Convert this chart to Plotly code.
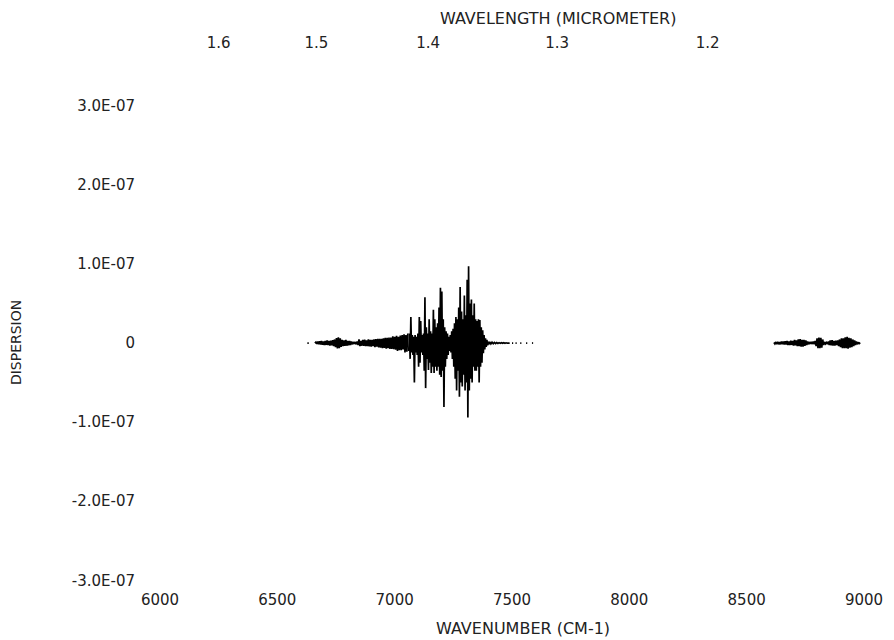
import plotly.graph_objects as go

# ---------------- data (dispersion in units of 1E-07) ----------------
# Each segment: wavenumber start (cm-1), sampling step (cm-1), dispersion values
SEG0_START, SEG0_STEP = 6628, 6
SEG0_VALS = [0.0, 0.0]

SEG1_START, SEG1_STEP = 6660, 4
SEG1_VALS = [
    0.0, 0.012, -0.012, 0.018, -0.015, 0.022, -0.02, 0.025, -0.022, 0.02,
    -0.025, 0.028, -0.024, 0.032, -0.026, 0.026, -0.032, 0.03, -0.028, 0.036,
    -0.04, 0.045, -0.052, 0.062, -0.068, 0.072, -0.064, 0.058, -0.05, 0.04,
    -0.04, 0.034, -0.036, 0.04, -0.034, 0.028, -0.03, 0.026, -0.024, 0.02,
    -0.016, 0.013, -0.01, 0.013, -0.016, 0.02, -0.026, 0.045, -0.04, 0.028,
    -0.034, 0.04, -0.036, 0.042, -0.04, 0.034, -0.04, 0.045, -0.042, 0.04,
    -0.046, 0.04, -0.04, 0.046, -0.052, 0.05, -0.046, 0.052, -0.055, 0.052,
    -0.058, 0.052, -0.065, 0.058, -0.062, 0.065, -0.07, 0.065, -0.065, 0.07,
    -0.076, 0.07, -0.076, 0.085, -0.078, 0.078, -0.085, 0.09, -0.1, 0.078,
    -0.09, 0.095, -0.09, 0.1, -0.08, 0.11, -0.12, 0.1, -0.11, 0.12,
]

SEG2_START, SEG2_STEP = 7060, 3
SEG2_VALS = [
    -0.1, 0.12, -0.2, 0.33, -0.12, 0.1, -0.15, 0.08, -0.5, 0.1,
    -0.12, 0.08, -0.15, 0.12, -0.3, 0.33, -0.25, 0.28, -0.12, 0.1,
    -0.15, 0.12, -0.35, 0.58, -0.57, 0.2, -0.2, 0.12, -0.34, 0.3,
    -0.25, 0.15, -0.38, 0.12, -0.3, 0.42, -0.38, 0.3, -0.3, 0.2,
    -0.35, 0.25, -0.3, 0.45, -0.4, 0.7, -0.43, 0.65, -0.35, 0.3,
    -0.81, 0.2, -0.3, 0.15, -0.2, 0.12, -0.15, 0.08, -0.1, 0.1,
    -0.12, 0.15, -0.2, 0.18, -0.3, 0.25, -0.45, 0.33, -0.6, 0.3,
    -0.35, 0.45, -0.68, 0.71, -0.5, 0.4, -0.55, 0.3, -0.4, 0.6,
    -0.6, 0.35, -0.5, 0.8, -0.94, 0.97, -0.6, 0.5, -0.45, 0.55,
    -0.5, 0.35, -0.3, 0.5, -0.35, 0.3, -0.35, 0.28, -0.3, 0.3,
    -0.5, 0.29, -0.3, 0.2, -0.25, 0.16, -0.13, 0.1, -0.08, 0.06,
    -0.05, 0.04, -0.03, 0.02,
]

SEG3_START, SEG3_STEP = 7400, 5
SEG3_VALS = [
    -0.02, 0.015, -0.012, 0.01, -0.008, 0.008, -0.006, 0.006, -0.005, 0.005,
    -0.004, 0.004, -0.004, 0.003, -0.003, 0.003, -0.002, 0.002, 0.0, None,
    0.0, 0.0, None, 0.0, 0.0, None, None, 0.0, 0.0, None,
    None, None, 0.0, 0.0, None, None, None, 0.0, 0.0,
]

SEG4_START, SEG4_STEP = 8616, 4
SEG4_VALS = [
    0.006, -0.01, 0.013, -0.013, 0.016, -0.016, 0.013, -0.016, 0.02, -0.016,
    0.02, -0.02, 0.024, -0.02, 0.026, -0.024, 0.02, -0.026, 0.03, -0.024,
    0.026, -0.032, 0.04, -0.03, 0.034, -0.04, 0.045, -0.04, 0.05, -0.045,
    0.04, -0.045, 0.04, -0.036, 0.032, -0.026, 0.02, -0.016, 0.013, -0.01,
    0.016, -0.013, 0.02, -0.016, 0.026, -0.04, 0.058, -0.065, 0.07, -0.065,
    0.065, -0.058, 0.045, -0.026, 0.013, -0.01, 0.007, -0.013, 0.02, -0.026,
    0.032, -0.03, 0.036, -0.032, 0.026, -0.032, 0.03, -0.026, 0.032, -0.04,
    0.045, -0.052, 0.058, -0.065, 0.058, -0.065, 0.072, -0.065, 0.078, -0.072,
    0.065, -0.058, 0.058, -0.052, 0.045, -0.04, 0.032, -0.026, 0.02, -0.016,
    0.01, -0.007, 0.004,
]

Y_TICK_VALUES = [3, 2, 1, 0, -1, -2, -3]
Y_TICK_LABELS = ["3.0E-07", "2.0E-07", "1.0E-07", "0", "-1.0E-07", "-2.0E-07", "-3.0E-07"]
X_TICK_VALUES = [6000, 6500, 7000, 7500, 8000, 8500, 9000]
WL_TICKS = [1.6, 1.5, 1.4, 1.3, 1.2]
WL_LABELS = ["1.6", "1.5", "1.4", "1.3", "1.2"]

X_TITLE = "WAVENUMBER (CM-1)"
X2_TITLE = "WAVELENGTH (MICROMETER)"
Y_TITLE = "DISPERSION"

# ---------------- assemble series ----------------
segments = [
    (SEG0_START, SEG0_STEP, SEG0_VALS),
    (SEG1_START, SEG1_STEP, SEG1_VALS),
    (SEG2_START, SEG2_STEP, SEG2_VALS),
    (SEG3_START, SEG3_STEP, SEG3_VALS),
    (SEG4_START, SEG4_STEP, SEG4_VALS),
]
xs, ys = [], []
for start, step, vals in segments:
    xs.extend(start + step * i for i in range(len(vals)))
    ys.extend(vals)
    xs.append(None)
    ys.append(None)

FONT = "DejaVu Sans, Open Sans, sans-serif"
INK = "#222222"

fig = go.Figure()
fig.add_trace(go.Scatter(
    x=xs, y=ys, mode="lines", connectgaps=False,
    line=dict(color="#000000", width=1.7),
    hoverinfo="skip", showlegend=False,
))
# helper trace to activate the top (wavelength) axis
fig.add_trace(go.Scatter(
    x=[X_TICK_VALUES[0], X_TICK_VALUES[-1]], y=[0, 0], xaxis="x2",
    mode="markers", marker=dict(opacity=0), hoverinfo="skip", showlegend=False,
))

axis_common = dict(showgrid=False, zeroline=False, showline=False, ticks="")

fig.update_layout(
    width=886, height=632,
    margin=dict(l=152, r=30, t=44, b=51),
    paper_bgcolor="white", plot_bgcolor="white",
    font=dict(family=FONT, size=15, color=INK),
    xaxis=dict(
        range=[6000, 9000], tickvals=X_TICK_VALUES,
        ticktext=[str(v) for v in X_TICK_VALUES], **axis_common,
    ),
    xaxis2=dict(
        overlaying="x", side="top", range=[6000, 9000],
        tickvals=[10000.0 / w for w in WL_TICKS], ticktext=WL_LABELS,
        **axis_common,
    ),
    yaxis=dict(
        range=[-3.11, 3.68], tickvals=Y_TICK_VALUES, ticktext=Y_TICK_LABELS,
        ticklabelstandoff=24, **axis_common,
    ),
    annotations=[
        dict(text=X2_TITLE, xref="paper", yref="paper", x=0.565, y=1.063,
             xanchor="center", yanchor="middle", showarrow=False,
             font=dict(size=16)),
        dict(text=X_TITLE, xref="paper", yref="paper", x=0.516, y=-0.073,
             xanchor="center", yanchor="middle", showarrow=False,
             font=dict(size=16)),
        dict(text=Y_TITLE, xref="paper", yref="paper", x=-0.2045, y=0.458,
             xanchor="center", yanchor="middle", showarrow=False,
             textangle=-90, font=dict(size=14)),
    ],
)

fig.write_html("out.html")
